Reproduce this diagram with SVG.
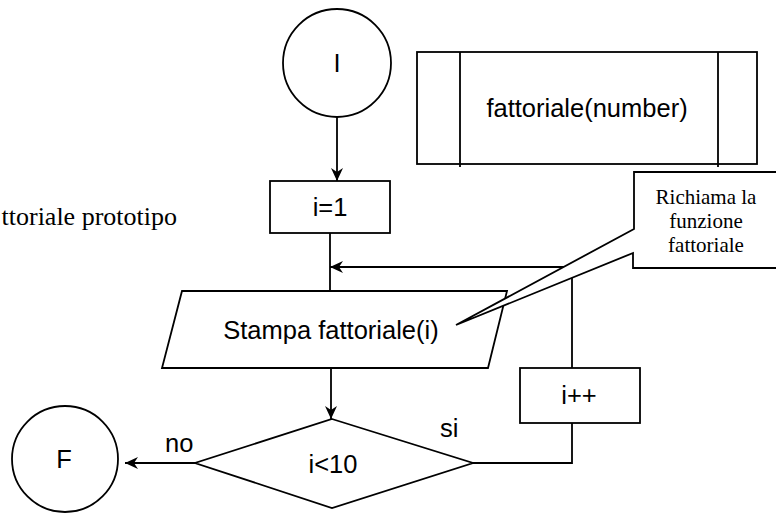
<svg xmlns="http://www.w3.org/2000/svg" width="776" height="515" viewBox="0 0 776 515">
<defs>
<style>
.s{fill:#fff;stroke:#000;stroke-width:1.8}
.c{fill:none;stroke:#000;stroke-width:1.8}
.t{font-family:"Liberation Sans",Arial,sans-serif;font-size:25.5px;fill:#000;text-anchor:middle}
.tl{font-family:"Liberation Sans",Arial,sans-serif;font-size:25.5px;fill:#000}
.tt{font-family:"Liberation Serif","Times New Roman",serif;fill:#000}
</style>
<marker id="ah" markerUnits="userSpaceOnUse" markerWidth="14" markerHeight="12" viewBox="0 0 14 12" refX="13" refY="6" orient="auto">
<path d="M0,0 L13,6 L0,12 L4,6 z" fill="#000"/>
</marker>
</defs>
<rect width="776" height="515" fill="#fff"/>
<text class="tt" font-size="26" x="177" y="225" text-anchor="end">ttoriale prototipo</text>
<g id="connectors">
<path class="c" d="M337,117 V181" marker-end="url(#ah)"/>
<path class="c" d="M330,233 V291"/>
<path class="c" d="M331,368 V419" marker-end="url(#ah)"/>
<path class="c" d="M195,463 H125" marker-end="url(#ah)"/>
<path class="c" d="M473,463 H572 V423"/>
<path class="c" d="M572,368 V267 H330" marker-end="url(#ah)"/>
</g>
<g id="start">
<circle class="s" cx="337" cy="63" r="54"/>
<text class="t" x="337" y="72">I</text>
</g>
<g id="fattoriale">
<rect class="s" x="417" y="52" width="340" height="112"/>
<path class="c" d="M460,52 V167 M718,52 V167"/>
<text class="t" x="587" y="117">fattoriale(number)</text>
</g>
<g id="init">
<rect class="s" x="270" y="181" width="120" height="52"/>
<text class="t" x="330" y="216">i=1</text>
</g>
<g id="stampa">
<path class="s" d="M182,291 H507 L488,368 H162 Z"/>
<text class="t" x="331" y="339">Stampa fattoriale(i)</text>
</g>
<g id="incr">
<rect class="s" x="520" y="368" width="120" height="55"/>
<text class="t" x="579" y="404">i++</text>
</g>
<g id="cond">
<path class="s" d="M332,419 L473,463 L332,508 L195,463 Z"/>
<text class="t" x="333" y="473">i&lt;10</text>
<text class="tl" x="165" y="452">no</text>
<text class="tl" x="440" y="437">si</text>
</g>
<g id="end">
<circle class="s" cx="65" cy="459" r="53"/>
<text class="t" x="64" y="468">F</text>
</g>
<g id="callout">
<path class="s" d="M790,172 H634 V229 L456,325 L633,253 V268 H790 Z"/>
<text class="tt" font-size="21" text-anchor="middle" x="706" y="204">Richiama la</text>
<text class="tt" font-size="21" text-anchor="middle" x="706" y="228">funzione</text>
<text class="tt" font-size="21" text-anchor="middle" x="706" y="252">fattoriale</text>
</g>
</svg>
